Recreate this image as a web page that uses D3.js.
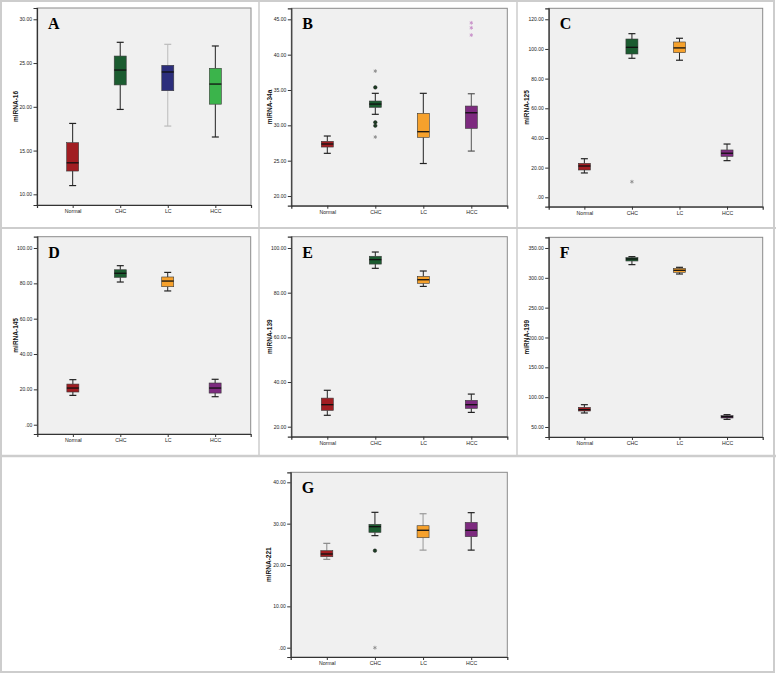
<!DOCTYPE html>
<html><head><meta charset="utf-8">
<script src="https://cdn.jsdelivr.net/npm/d3@7"></script>
<style>body{margin:0;background:#fff}svg{display:block}</style>
</head><body>
<svg id="chart" width="776" height="674"></svg>
<script>
// ---------- data ----------
const groups = ["Normal", "CHC", "LC", "HCC"];
// five-number summaries per group: [lower whisker, Q1, median, Q3, upper whisker]
const miR16  = [[11.0,12.66,13.6,15.9,18.1],[19.7,22.5,24.2,25.8,27.37],[17.8,21.84,23.98,24.74,27.14],[16.55,20.3,22.6,24.4,26.95]];
const miR34a = [[26.04,26.93,27.36,27.74,28.49],[31.56,32.55,33.01,33.44,34.53],[24.6,28.3,29.1,31.7,34.53],[26.36,29.57,31.78,32.73,34.47]];
const miR125 = [[16.4,18.4,21.1,22.9,26.0],[93.7,96.6,101.1,106.7,110.3],[92.4,97.5,100.7,104.7,107.2],[24.7,27.6,29.7,31.9,35.9]];
const miR145 = [[16.6,18.5,20.75,23.0,25.5],[80.75,83.4,85.7,87.7,90.0],[75.7,78.1,81.3,83.6,86.2],[15.85,17.9,20.75,23.6,25.7]];
const miR139 = [[25.1,27.3,29.85,32.8,36.3],[90.9,92.8,94.8,96.3,98.2],[82.8,84.2,85.8,87.3,89.7],[26.4,28.2,29.85,31.8,34.6]];
const miR199 = [[73.5,76.8,79.05,83.0,87.4],[322.1,328.2,331.6,333.8,335.5],[306.4,309.2,312.6,315.9,317.6],[62.8,65.1,67.3,69.0,70.7]];
const miR221 = [[21.37,22.0,22.66,23.47,25.24],[27.1,27.9,29.27,29.84,32.74],[23.6,26.6,28.4,29.5,32.4],[23.6,26.85,28.4,30.3,32.66]];
// outliers: [group index, value, kind]
const out34a = [[1,37.68,"*"],[1,35.37,"o"],[1,30.42,"o"],[1,29.95,"o"],[1,28.35,"*"],[3,44.5,"*"],[3,43.8,"*"],[3,42.77,"*"]];
const out125 = [[1,10.5,"*"]];
const out221 = [[1,23.47,"o"],[1,0.0,"*"]];
// tick values
const ticks16  = [10,15,20,25,30];
const ticks34a = [20,25,30,35,40,45];
const ticks125 = [0,20,40,60,80,100,120];
const ticks145 = [0,20,40,60,80,100];
const ticks139 = [20,40,60,80,100];
const ticks199 = [50,100,150,200,250,300,350];
const ticks221 = [0,10,20,30,40];

// ---------- styling / layout ----------
const RED="#a11d22", DGREEN="#1b5c30", NAVY="#2c2e7c", LGREEN="#3bb44b", ORANGE="#f6a12c", PURPLE="#7d2a7f", DPURPLE="#5c1e5e";
const panels = [
  {letter:"A", title:"miRNA-16",  stats:miR16,  out:[],     ticks:ticks16,  dom:[8.78,31.29],  rect:[37,8,251,205],       colors:[RED,DGREEN,NAVY,LGREEN],   whisk:["#222","#222","#bbb","#222"]},
  {letter:"B", title:"miRNA-34a", stats:miR34a, out:out34a, ticks:ticks34a, dom:[18.63,46.56], rect:[291.3,8.3,507.3,205.7], colors:[RED,DGREEN,ORANGE,PURPLE], whisk:["#222","#222","#222","#555"]},
  {letter:"C", title:"miRNA-125", stats:miR125, out:out125, ticks:ticks125, dom:[-6.34,127.4], rect:[548.7,8.3,762.7,206.7], colors:[RED,DGREEN,ORANGE,PURPLE], whisk:["#222","#222","#222","#222"]},
  {letter:"D", title:"miRNA-145", stats:miR145, out:[],     ticks:ticks145, dom:[-5.26,106.4], rect:[37.3,236.7,250.7,434],  colors:[RED,DGREEN,ORANGE,PURPLE], whisk:["#222","#222","#222","#222"]},
  {letter:"E", title:"miRNA-139", stats:miR139, out:[],     ticks:ticks139, dom:[15.52,105.06],rect:[291.3,236.7,507.3,436.7],colors:[RED,DGREEN,ORANGE,PURPLE], whisk:["#222","#222","#222","#222"]},
  {letter:"F", title:"miRNA-199", stats:miR199, out:[],     ticks:ticks199, dom:[33.24,367.9], rect:[548.7,237.3,762.7,437],  colors:[RED,DGREEN,ORANGE,DPURPLE],whisk:["#222","#222","#222","#222"]},
  {letter:"G", title:"miRNA-221", stats:miR221, out:out221, ticks:ticks221, dom:[-2.25,42.42], rect:[290.7,472.3,507.3,657],  colors:[RED,DGREEN,ORANGE,PURPLE], whisk:["#888","#222","#999","#222"]}
];

const svg = d3.select("#chart");
// cell borders
const border = "#cdcdcd";
svg.append("rect").attr("x",1).attr("y",1).attr("width",773).attr("height",671)
   .attr("fill","none").attr("stroke",border).attr("stroke-width",2);
svg.append("line").attr("x1",0).attr("x2",776).attr("y1",228).attr("y2",228).attr("stroke",border).attr("stroke-width",2);
svg.append("line").attr("x1",0).attr("x2",776).attr("y1",456).attr("y2",456).attr("stroke",border).attr("stroke-width",2.5);
[259,517].forEach(x=>svg.append("line").attr("x1",x).attr("x2",x).attr("y1",0).attr("y2",456).attr("stroke",border).attr("stroke-width",1.5));

const fmt = v => v===0 ? ".00" : d3.format(".2f")(v);
const boxW = 12, capW = 7;

panels.forEach(p => {
  const [x0,y0,x1,y1] = p.rect;
  const g = svg.append("g");
  const x = d3.scalePoint().domain(groups).range([x0,x1]).padding(0.75);
  const y = d3.scaleLinear().domain(p.dom).range([y1,y0]);

  g.append("rect").attr("x",x0).attr("y",y0).attr("width",x1-x0).attr("height",y1-y0)
   .attr("fill","#f0f0f0").attr("stroke","#8a8a8a").attr("stroke-width",1);

  // y axis
  const ya = g.append("g").attr("transform",`translate(${x0},0)`)
    .call(d3.axisLeft(y).tickValues(p.ticks).tickFormat(fmt).tickSize(3.5).tickPadding(1.5));
  ya.select(".domain").attr("stroke","#333").attr("stroke-width",1.2);
  ya.selectAll(".tick line").attr("stroke","#333");
  ya.selectAll("text").attr("font-family","Liberation Sans, Arial, sans-serif").attr("font-size",5).attr("fill","#222");
  // x axis
  const xa = g.append("g").attr("transform",`translate(0,${y1})`)
    .call(d3.axisBottom(x).tickSize(3).tickPadding(1.5));
  xa.select(".domain").attr("stroke","#333").attr("stroke-width",1.2);
  xa.selectAll(".tick line").attr("stroke","#333");
  xa.selectAll("text").attr("font-family","Liberation Sans, Arial, sans-serif").attr("font-size",5.2).attr("fill","#222");

  // y title
  g.append("text").attr("transform",`translate(${x0-21},${(y0+y1)/2}) rotate(-90)`)
   .attr("text-anchor","middle").attr("dominant-baseline","middle")
   .attr("font-family","Liberation Sans, Arial, sans-serif").attr("font-size",6.5).attr("font-weight","bold")
   .attr("fill","#111").text(p.title);
  // panel letter
  g.append("text").attr("x",x0+11).attr("y",y0+21)
   .attr("font-family","Liberation Serif, Times New Roman, serif").attr("font-size",16).attr("font-weight","bold")
   .attr("fill","#000").text(p.letter);

  // boxes
  p.stats.forEach((s,i) => {
    const cx = x(groups[i]);
    const [lo,q1,md,q3,hi] = s;
    const wc = p.whisk[i];
    g.append("line").attr("x1",cx).attr("x2",cx).attr("y1",y(hi)).attr("y2",y(q3)).attr("stroke",wc).attr("stroke-width",1);
    g.append("line").attr("x1",cx).attr("x2",cx).attr("y1",y(q1)).attr("y2",y(lo)).attr("stroke",wc).attr("stroke-width",1);
    [lo,hi].forEach(v => g.append("line").attr("x1",cx-capW/2).attr("x2",cx+capW/2)
      .attr("y1",y(v)).attr("y2",y(v)).attr("stroke",wc).attr("stroke-width",1.2));
    g.append("rect").attr("x",cx-boxW/2).attr("y",y(q3)).attr("width",boxW).attr("height",Math.max(1,y(q1)-y(q3)))
      .attr("fill",p.colors[i]).attr("stroke","#3a3a3a").attr("stroke-width",0.6);
    g.append("line").attr("x1",cx-boxW/2).attr("x2",cx+boxW/2).attr("y1",y(md)).attr("y2",y(md))
      .attr("stroke","#111").attr("stroke-width",1.3);
  });

  // outliers
  p.out.forEach(([gi,v,k]) => {
    const cx = x(groups[gi]);
    if (k === "o") {
      g.append("circle").attr("cx",cx).attr("cy",y(v)).attr("r",1.8).attr("fill","#1d3d24").attr("stroke","#111").attr("stroke-width",0.4);
    } else {
      const c = (p.letter==="B" && gi===3) ? "#c58ac6" : "#888";
      g.append("path").attr("transform",`translate(${cx},${y(v)})`)
        .attr("d",d3.symbol(d3.symbolAsterisk).size(10)()).attr("fill","none").attr("stroke",c).attr("stroke-width",0.8);
    }
  });
});
</script>
</body></html>
